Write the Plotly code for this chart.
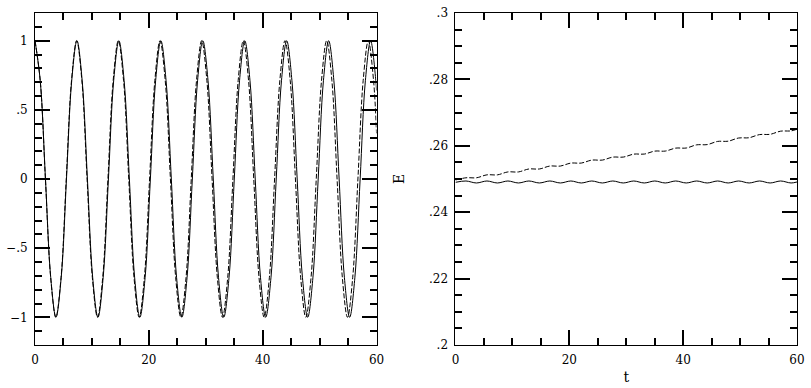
import plotly.graph_objects as go

# ---- left panel: oscillation, read at eighth-period points ----
t_solid = [0, 0.92, 1.84, 2.76, 3.68, 4.61, 5.53, 6.45, 7.37, 8.29, 9.21, 10.13,
           11.06, 11.98, 12.90, 13.82, 14.74, 15.66, 16.58, 17.50, 18.42, 19.35,
           20.27, 21.19, 22.11, 23.03, 23.95, 24.87, 25.80, 26.72, 27.64, 28.56,
           29.48, 30.40, 31.32, 32.24, 33.16, 34.09, 35.01, 35.93, 36.85, 37.77,
           38.69, 39.61, 40.53, 41.46, 42.38, 43.30, 44.22, 45.14, 46.06, 46.98,
           47.91, 48.83, 49.75, 50.67, 51.59, 52.51, 53.43, 54.35, 55.28, 56.20,
           57.12, 58.04, 58.96, 59.88, 60.0]
y_solid = [1, .71, 0, -.71, -1, -.71, 0, .71,
           1, .71, 0, -.71, -1, -.71, 0, .71,
           1, .71, 0, -.71, -1, -.71, 0, .71,
           1, .71, 0, -.71, -1, -.71, 0, .71,
           1, .71, 0, -.71, -1, -.71, 0, .71,
           1, .71, 0, -.71, -1, -.71, 0, .71,
           1, .71, 0, -.71, -1, -.71, 0, .71,
           1, .71, 0, -.71, -1, -.71, 0, .71,
           1, .71, .64]

t_dash = [0, 0.92, 1.83, 2.75, 3.66, 4.58, 5.49, 6.41, 7.32, 8.24, 9.15, 10.07,
          10.98, 11.90, 12.81, 13.73, 14.64, 15.56, 16.47, 17.39, 18.30, 19.22,
          20.13, 21.05, 21.96, 22.88, 23.79, 24.71, 25.62, 26.54, 27.45, 28.37,
          29.28, 30.20, 31.11, 32.03, 32.94, 33.86, 34.77, 35.69, 36.60, 37.52,
          38.43, 39.35, 40.26, 41.18, 42.09, 43.01, 43.92, 44.84, 45.75, 46.67,
          47.58, 48.50, 49.41, 50.33, 51.24, 52.16, 53.07, 53.99, 54.90, 55.82,
          56.73, 57.65, 58.56, 59.48, 60.0]
y_dash = [1, .71, 0, -.71, -1, -.71, 0, .71,
          1, .71, 0, -.71, -1, -.71, 0, .71,
          1, .71, 0, -.71, -1, -.71, 0, .71,
          1, .71, 0, -.71, -1, -.71, 0, .71,
          1, .71, 0, -.71, -1, -.71, 0, .71,
          1, .71, 0, -.71, -1, -.71, 0, .71,
          1, .71, 0, -.71, -1, -.71, 0, .71,
          1, .71, 0, -.71, -1, -.71, 0, .71,
          1, .71, .33]

# ---- right panel: energy E(t), read at half-wiggle points ----
t_E = [0, 1.84, 3.69, 5.53, 7.37, 9.21, 11.06, 12.90, 14.74, 16.58, 18.43, 20.27,
       22.11, 23.95, 25.80, 27.64, 29.48, 31.32, 33.17, 35.01, 36.85, 38.69,
       40.54, 42.38, 44.22, 46.06, 47.91, 49.75, 51.59, 53.43, 55.28, 57.12,
       58.96, 60.0]
E_solid = [0.2490, 0.2494, 0.2488, 0.2494, 0.2488, 0.2494, 0.2488, 0.2494,
           0.2488, 0.2494, 0.2488, 0.2494, 0.2488, 0.2494, 0.2488, 0.2494,
           0.2488, 0.2494, 0.2488, 0.2494, 0.2488, 0.2494, 0.2488, 0.2494,
           0.2488, 0.2494, 0.2488, 0.2494, 0.2488, 0.2494, 0.2488, 0.2494,
           0.2488, 0.2491]
E_dash = [0.24970, 0.25036, 0.25037, 0.25125, 0.25125, 0.25213, 0.25213, 0.25302,
          0.25302, 0.25390, 0.25390, 0.25479, 0.25480, 0.25569, 0.25570, 0.25659,
          0.25660, 0.25749, 0.25751, 0.25840, 0.25841, 0.25930, 0.25933, 0.26029,
          0.26036, 0.26132, 0.26139, 0.26235, 0.26243, 0.26338, 0.26346, 0.26441,
          0.26449, 0.26500]

x_ticks = [0, 20, 40, 60]
x_labels = ["0", "20", "40", "60"]
y1_ticks = [-1, -0.5, 0, 0.5, 1]
y1_labels = ["\u22121", "\u2212.5", "0", ".5", "1"]
y2_ticks = [0.2, 0.22, 0.24, 0.26, 0.28, 0.3]
y2_labels = [".2", ".22", ".24", ".26", ".28", ".3"]

FONT = dict(family="DejaVu Serif", size=12, color="black")
line = dict(color="black", width=1, shape="spline", smoothing=1)
dash_line = dict(color="black", width=1, shape="spline", smoothing=1, dash="5px,2px")

fig = go.Figure()
fig.add_trace(go.Scatter(x=t_solid, y=y_solid, mode="lines", line=line, xaxis="x", yaxis="y"))
fig.add_trace(go.Scatter(x=t_dash, y=y_dash, mode="lines", line=dash_line, xaxis="x", yaxis="y"))
fig.add_trace(go.Scatter(x=t_E, y=E_solid, mode="lines", line=line, xaxis="x2", yaxis="y2"))
fig.add_trace(go.Scatter(x=t_E, y=E_dash, mode="lines", line=dash_line, xaxis="x2", yaxis="y2"))


def axis(tickvals, ticktext, rng, minor_dtick, domain, anchor, **kw):
    d = dict(
        range=rng, domain=domain, anchor=anchor,
        tickmode="array", tickvals=tickvals, ticktext=ticktext,
        ticks="inside", ticklen=15, tickwidth=2, tickcolor="black",
        minor=dict(ticks="inside", ticklen=7, tickwidth=2, tickcolor="black",
                   tickmode="linear", tick0=rng[0], dtick=minor_dtick),
        showline=True, linecolor="black", linewidth=1, mirror="allticks",
        showgrid=False, zeroline=False, ticklabelstandoff=4,
    )
    d.update(kw)
    return d


fig.update_layout(
    width=811, height=388,
    margin=dict(l=30, r=9, t=6, b=35),
    paper_bgcolor="white", plot_bgcolor="white",
    showlegend=False,
    font=FONT,
    xaxis=axis(x_ticks, x_labels, [0, 60], 5, [0, 0.4482], "y"),
    yaxis=axis(y1_ticks, y1_labels, [-1.2, 1.2], 0.1, [0, 1], "x"),
    xaxis2=axis(x_ticks, x_labels, [0, 60], 5, [0.5518, 1], "y2",
                title=dict(text="t", standoff=5)),
    yaxis2=axis(y2_ticks, y2_labels, [0.2, 0.3], 0.005, [0, 1], "x2",
                title=dict(text="E", standoff=21)),
)

fig.write_html("out.html", config={"displayModeBar": False},
               post_script="document.body.style.margin='0';document.body.style.overflow='hidden';")
